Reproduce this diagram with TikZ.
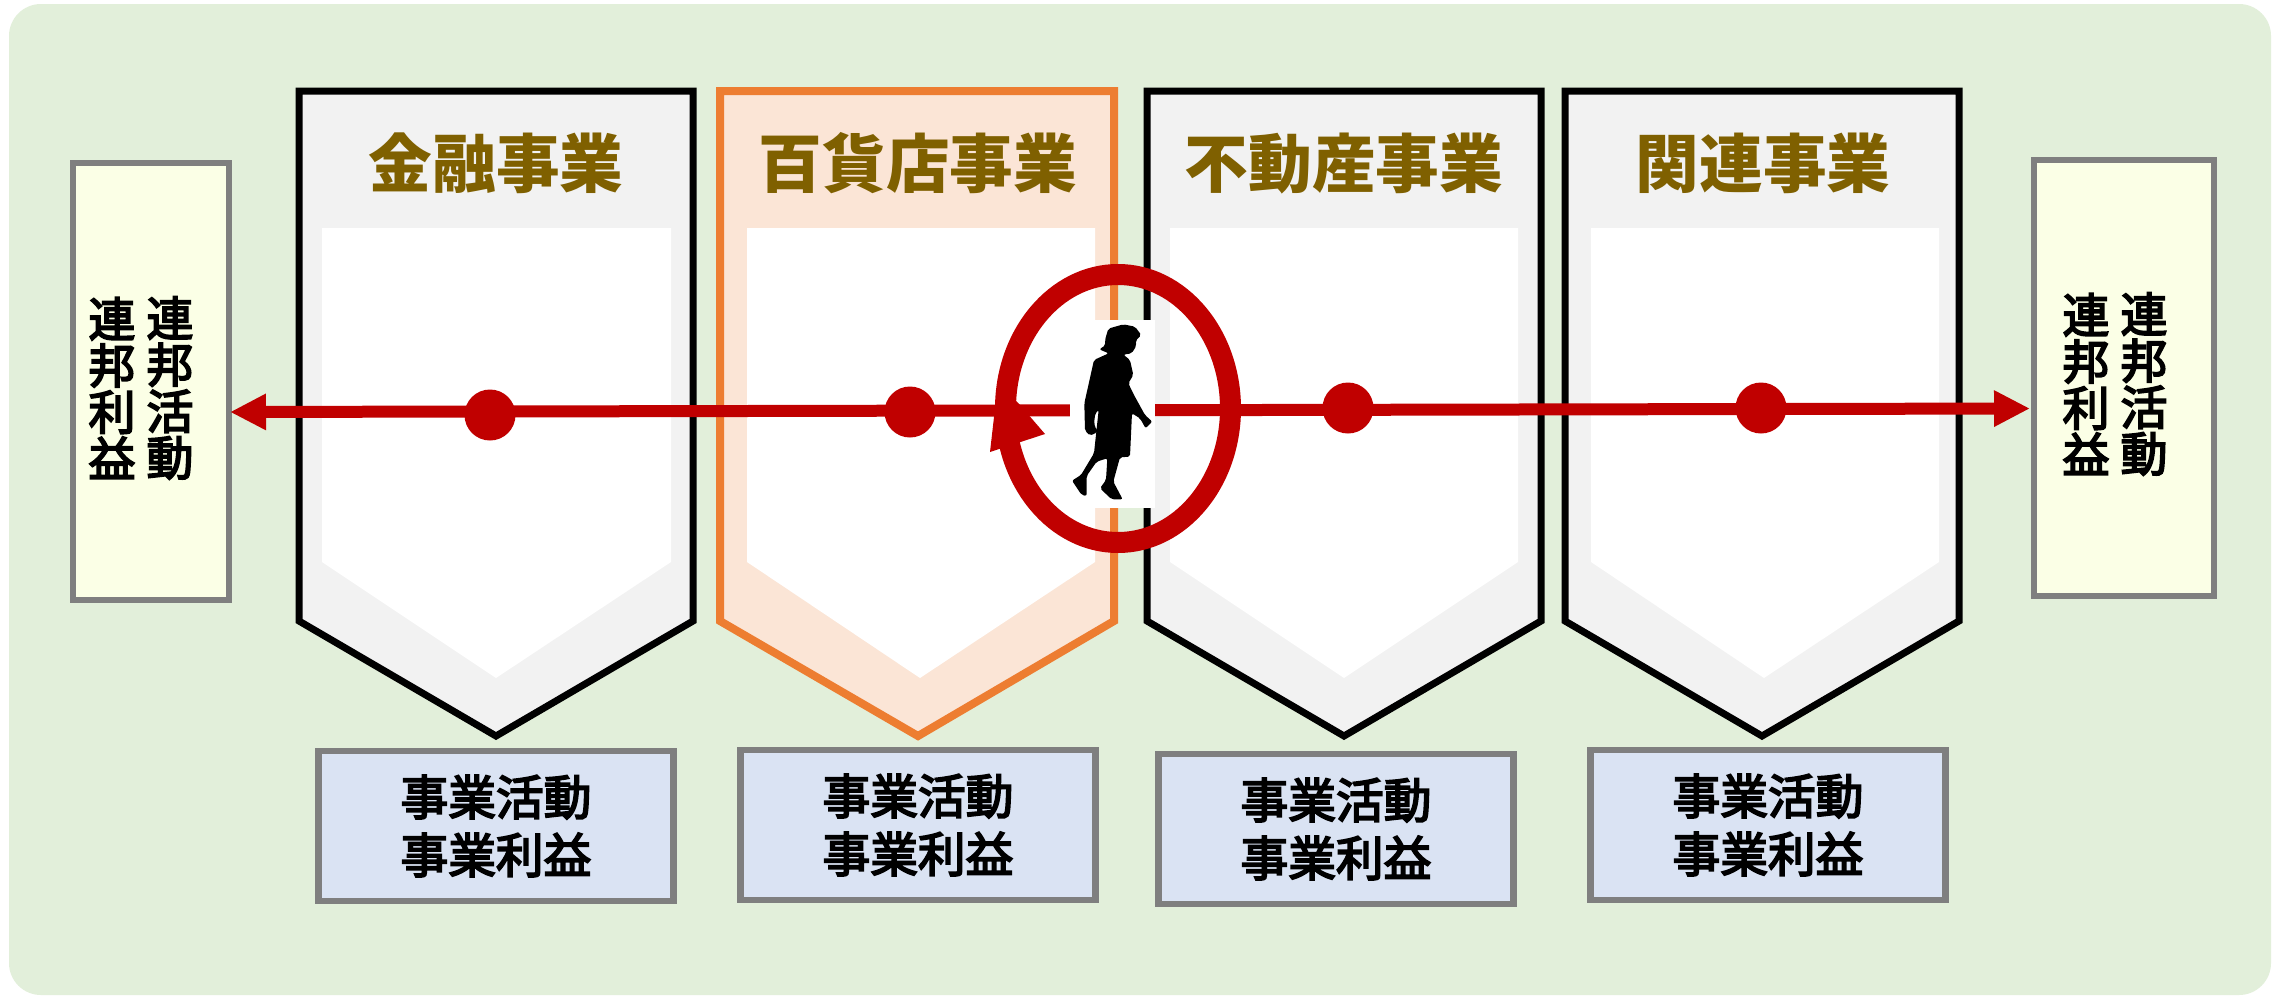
\documentclass[tikz,border=0pt]{standalone}
\usepackage{fontspec}
\setmainfont{Noto Sans CJK JP}
\newfontfamily\jpmed{Noto Sans CJK JP}[FakeBold=3.8]
\usetikzlibrary{arrows.meta}
\definecolor{bggreen}{HTML}{E2EFDA}
\definecolor{redc}{HTML}{C00000}
\definecolor{paleyellow}{HTML}{FBFFE6}
\definecolor{paleblue}{HTML}{DAE3F3}
\definecolor{greyline}{HTML}{7F7F7F}
\definecolor{greyfill}{HTML}{F2F2F2}
\definecolor{orangeline}{HTML}{ED7D31}
\definecolor{orangefill}{HTML}{FBE5D6}
\definecolor{titlecol}{HTML}{7F6000}
\newcommand{\lowered}[1]{\raisebox{-5pt}{#1}}
\tikzset{
  x=1pt,y=-1pt,
  title/.style={font=\fontsize{63.7}{64}\selectfont\bfseries,text=titlecol,inner sep=0pt},
  bottombox/.style={draw=greyline,line width=6.5pt,fill=paleblue,minimum width=355pt,minimum height=150pt,align=center,inner sep=0pt,font=\fontsize{47.7}{60}\selectfont\jpmed},
  sidebox/.style={draw=greyline,line width=6.5pt,fill=paleyellow,inner sep=0pt},
  column/.style={align=center,inner sep=0pt,font=\fontsize{47}{46.5}\selectfont\jpmed},
  dot/.style={circle,fill=redc,minimum size=51pt,inner sep=0pt},
  redline/.style={draw=redc,line width=12pt},
}
% #1 left, #2 right, #3 tip x, #4 inner left, #5 inner right, #6 inner tip x, #7 stroke, #8 fill, #9 stroke width
\newcommand{\pentagonshape}[9]{%
  \draw[draw=#7,fill=#8,line width=#9,miter limit=10] (#1,91) -- (#2,91) -- (#2,621) -- (#3,736) -- (#1,621) -- cycle;
  \fill[white] (#4,228) -- (#5,228) -- (#5,562) -- (#6,678) -- (#4,562) -- cycle;
}
\begin{document}
\begin{tikzpicture}
\useasboundingbox (0,0) rectangle (2282,996);
\fill[white] (0,0) rectangle (2282,996);
\fill[bggreen,rounded corners=32pt] (9,4) rectangle (2271,995);

\pentagonshape{299}{693}{496}{322}{671}{496}{black}{greyfill}{7pt}
\pentagonshape{720}{1114}{918}{747}{1095}{920}{orangeline}{orangefill}{8pt}
\pentagonshape{1147}{1541}{1344}{1170}{1518}{1344}{black}{greyfill}{7pt}
\pentagonshape{1565}{1959}{1762}{1591}{1939}{1764}{black}{greyfill}{7pt}

\node[title] (t1) at (496,163.5) {金融事業};
\node[title] (t2) at (918,163.5) {百貨店事業};
\node[title] (t3) at (1344,163.5) {不動産事業};
\node[title] (t4) at (1763,163.5) {関連事業};

\node[bottombox] (b1) at (496,826) {\lowered{事業活動}\\[-2pt]\lowered{事業利益}};
\node[bottombox] (b2) at (918,825) {\lowered{事業活動}\\[-2pt]\lowered{事業利益}};
\node[bottombox] (b3) at (1336,829) {\lowered{事業活動}\\[-2pt]\lowered{事業利益}};
\node[bottombox] (b4) at (1768,825) {\lowered{事業活動}\\[-2pt]\lowered{事業利益}};

\node[sidebox,minimum width=156pt,minimum height=437pt] (leftbox) at (151,381.5) {};
\node[column] (l1) at (170,388) {連\\邦\\活\\動};
\node[column] (l2) at (112,388) {連\\邦\\利\\益};
\node[sidebox,minimum width=180pt,minimum height=436pt] (rightbox) at (2124,378) {};
\node[column] (r1) at (2144,384) {連\\邦\\活\\動};
\node[column] (r2) at (2086,384) {連\\邦\\利\\益};

\coordinate (lineL) at (230,412);
\coordinate (lineR) at (2030,408.5);
\draw[redline,{Triangle[length=36pt,width=34pt]}-{Triangle[length=36pt,width=34pt]}] (lineL) -- (lineR);

\node[dot] (d1) at (490,415) {};
\node[dot] (d2) at (910,412) {};
\node[dot] (d3) at (1348,408) {};
\node[dot] (d4) at (1761,408) {};

\fill[white] (1070,320) rectangle (1155,508);
% walking figure, traced at 3x from corner (950,240)
\begin{scope}[shift={(950,240)},x=0.3333pt,y=-0.3333pt]
\fill[black,rounded corners=2pt] (465,300) -- (475,266) -- (520,253) -- (555,260) -- (574,285) -- (557,302) -- (559,318) -- (545,340) -- (520,344) -- (540,360) -- (550,405) -- (535,430) -- (552,465) -- (585,525) -- (607,545) -- (587,565) -- (570,535) -- (546,520) -- (540,650) -- (510,652) -- (490,725) -- (518,778) -- (485,778) -- (450,745) -- (468,720) -- (472,655) -- (440,665) -- (410,708) -- (410,768) -- (395,765) -- (366,722) -- (393,705) -- (432,640) -- (446,510) -- (436,520) -- (432,550) -- (442,577) -- (420,587) -- (405,572) -- (403,490) -- (432,360) -- (476,340) -- (448,328) -- (466,316) -- cycle;
\end{scope}

\draw[draw=redc,line width=21pt] (1118,408.5) ellipse [x radius=112.5pt,y radius=134pt];
\fill[redc] (998,382) -- (990,452) -- (1045,434) -- (1020,405) -- cycle;
\end{tikzpicture}
\end{document}
